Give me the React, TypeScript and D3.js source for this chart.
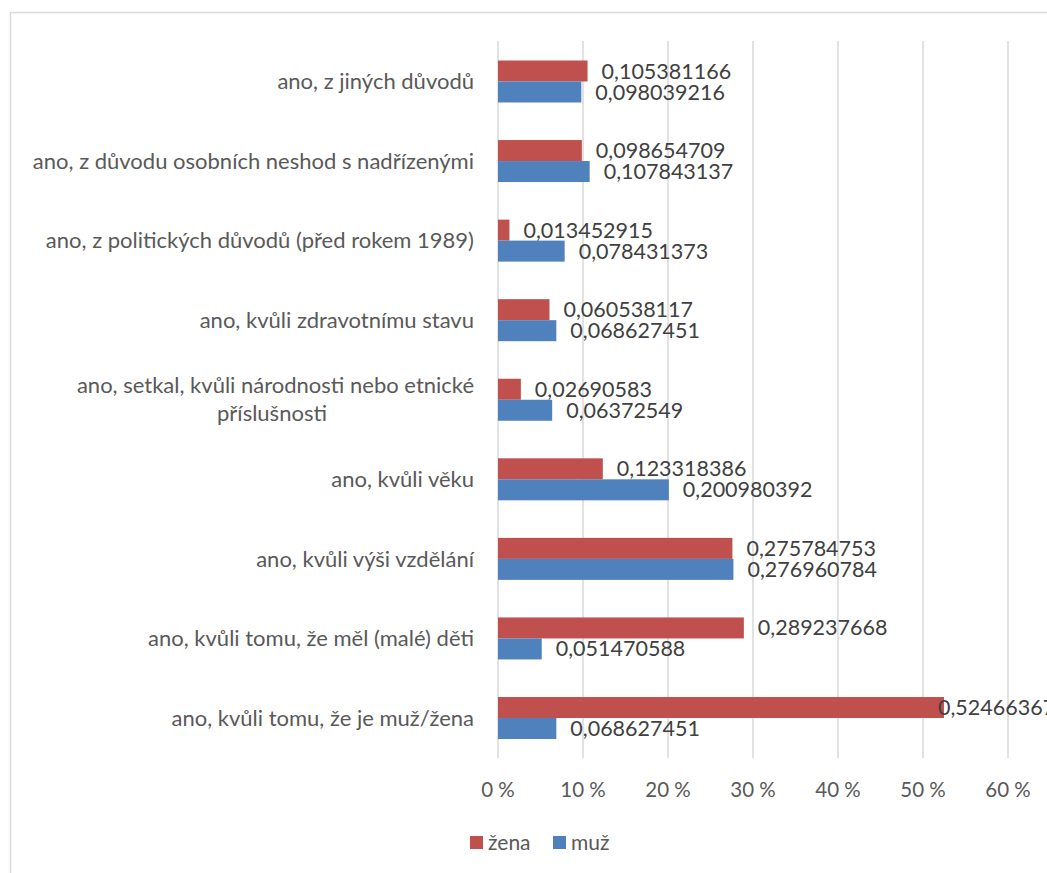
import React from "react";
import * as d3 from "d3";

const categories: string[][] = [
  ["ano, z jiných důvodů"],
  ["ano, z důvodu osobních neshod s nadřízenými"],
  ["ano, z politických důvodů (před rokem 1989)"],
  ["ano, kvůli zdravotnímu stavu"],
  ["ano, setkal, kvůli národnosti nebo etnické", "příslušnosti"],
  ["ano, kvůli věku"],
  ["ano, kvůli výši vzdělání"],
  ["ano, kvůli tomu, že měl (malé) děti"],
  ["ano, kvůli tomu, že je muž/žena"],
];
const zena: number[] = [0.105381166, 0.098654709, 0.013452915, 0.060538117, 0.02690583, 0.123318386, 0.275784753, 0.289237668, 0.524663677];
const muz: number[] = [0.098039216, 0.107843137, 0.078431373, 0.068627451, 0.06372549, 0.200980392, 0.276960784, 0.051470588, 0.068627451];
const valueLabelsZena: string[] = ["0,105381166", "0,098654709", "0,013452915", "0,060538117", "0,02690583", "0,123318386", "0,275784753", "0,289237668", "0,524663677"];
const valueLabelsMuz: string[] = ["0,098039216", "0,107843137", "0,078431373", "0,068627451", "0,06372549", "0,200980392", "0,276960784", "0,051470588", "0,068627451"];
const ticks: number[] = [0, 0.1, 0.2, 0.3, 0.4, 0.5, 0.6];
const seriesNames = ["žena", "muž"];

const RED = "#C0504D";
const BLUE = "#4F81BD";
const FONT = "Lato, 'Open Sans', sans-serif";

export default function App() {
  const W = 1047, H = 873;
  const x = d3.scaleLinear().domain([0, 0.6]).range([498, 1008]);
  const y = d3.scaleBand<number>().domain(d3.range(categories.length)).range([41.7, 757.8]).paddingInner(0).paddingOuter(0);
  const bh = 21;
  const bw = y.bandwidth();
  const labelX = (v: number) => Math.min(x(v) + 14, 938);
  return (
    <svg width={W} height={H} style={{ position: "absolute", left: 0, top: 0 }} fontFamily={FONT}>
      <rect x={0} y={0} width={W} height={H} fill="#fff" />
      <rect x={10.5} y={12.5} width={1200} height={1000} fill="none" stroke="#d9d9d9" strokeWidth={1.5} />
      {ticks.map((t) => (
        <line key={t} x1={x(t)} x2={x(t)} y1={41} y2={758} stroke="#d9d9d9" strokeWidth={1.5} />
      ))}
      {categories.map((c, i) => {
        const cy = (y(i) as number) + bw / 2;
        return (
          <g key={i}>
            <rect x={x(0)} y={cy - bh} width={x(zena[i]) - x(0)} height={bh} fill={RED} />
            <rect x={x(0)} y={cy} width={x(muz[i]) - x(0)} height={bh} fill={BLUE} />
            <text x={labelX(zena[i])} y={cy - bh / 2} dy="0.35em" fontSize={21.5} fill="#404040">{valueLabelsZena[i]}</text>
            <text x={labelX(muz[i])} y={cy + bh / 2} dy="0.35em" fontSize={21.5} fill="#404040">{valueLabelsMuz[i]}</text>
            {c.length === 1 ? (
              <text x={474} y={cy} dy="0.35em" textAnchor="end" fontSize={22} fill="#595959">{c[0]}</text>
            ) : (
              <g>
                <text x={474} y={cy - 14} dy="0.35em" textAnchor="end" fontSize={22} fill="#595959">{c[0]}</text>
                <text x={272} y={cy + 14} dy="0.35em" textAnchor="middle" fontSize={22} fill="#595959">{c[1]}</text>
              </g>
            )}
          </g>
        );
      })}
      {ticks.map((t) => (
        <text key={t} x={x(t)} y={790} dy="0.35em" textAnchor="middle" fontSize={20.5} fill="#595959">{`${Math.round(t * 100)} %`}</text>
      ))}
      <g>
        <rect x={470} y={836} width={13} height={13} fill={RED} />
        <text x={488} y={843} dy="0.35em" fontSize={21} fill="#595959">{seriesNames[0]}</text>
        <rect x={553} y={836} width={13} height={13} fill={BLUE} />
        <text x={571} y={843} dy="0.35em" fontSize={21} fill="#595959">{seriesNames[1]}</text>
      </g>
    </svg>
  );
}
